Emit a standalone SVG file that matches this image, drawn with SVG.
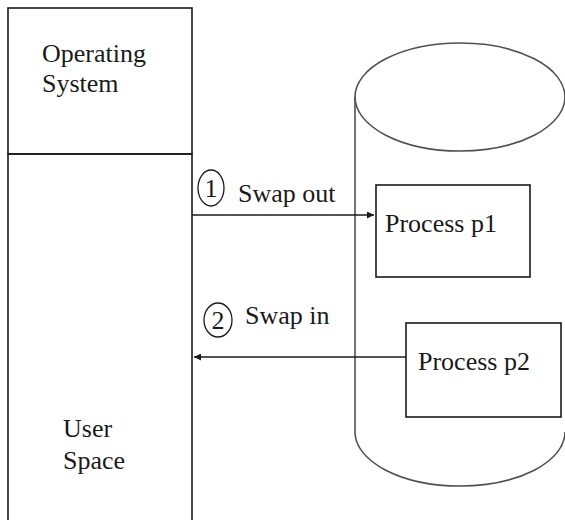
<svg xmlns="http://www.w3.org/2000/svg" width="565" height="520" viewBox="0 0 565 520">
<style>
.box{fill:none;stroke:#1a1a1a;stroke-width:1.6}
.cyl{fill:none;stroke:#505050;stroke-width:1.6}
text{font-family:'Liberation Serif','DejaVu Serif',serif;font-size:26px;fill:#1a1a1a}
.conn{stroke:#1a1a1a;stroke-width:1.6;fill:none}
.num{fill:none;stroke:#1a1a1a;stroke-width:1.3}
</style>
<defs>
<marker id="ah" viewBox="0 0 10 10" refX="10" refY="5" markerWidth="7" markerHeight="7" markerUnits="userSpaceOnUse" orient="auto">
<path d="M0,0 L10,5 L0,10 z" fill="#1a1a1a"/>
</marker>
</defs>
<rect width="565" height="520" fill="#fff"/>
<g id="os">
<rect class="box" x="8" y="8" width="184" height="146"/>
<text x="42" y="62">Operating</text>
<text x="42" y="92">System</text>
</g>
<g id="userspace">
<rect class="box" x="8" y="154" width="184" height="380"/>
<text x="63" y="437">User</text>
<text x="63" y="469">Space</text>
</g>
<g id="disk">
<path class="cyl" d="M355,97 L355,432 A105,54 0 0 0 565,432"/>
<ellipse class="cyl" cx="460" cy="97" rx="105" ry="54"/>
</g>
<g id="p1">
<rect class="box" x="376" y="185" width="154" height="92"/>
<text x="385" y="232">Process p1</text>
</g>
<g id="p2">
<rect class="box" x="406" y="323" width="155" height="94"/>
<text x="418" y="370">Process p2</text>
</g>
<g id="connectors">
<line class="conn" x1="192" y1="215" x2="374" y2="215" marker-end="url(#ah)"/>
<line class="conn" x1="406" y1="357" x2="194" y2="357" marker-end="url(#ah)"/>
</g>
<g id="label1">
<ellipse class="num" cx="211" cy="188" rx="13" ry="18"/>
<text x="211" y="197" text-anchor="middle">1</text>
<text x="238" y="202">Swap out</text>
</g>
<g id="label2">
<ellipse class="num" cx="218" cy="320" rx="14" ry="17"/>
<text x="218" y="329" text-anchor="middle">2</text>
<text x="245" y="324">Swap in</text>
</g>
</svg>
